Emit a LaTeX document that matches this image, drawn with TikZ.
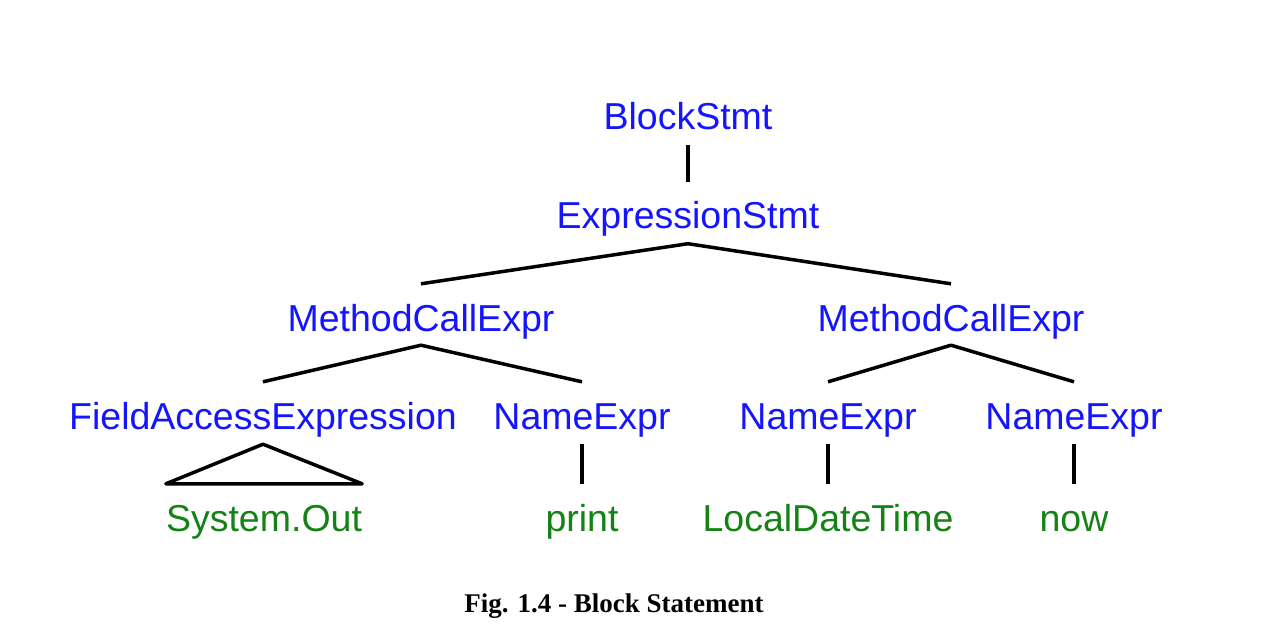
\documentclass[tikz,border=0pt]{standalone}
\usepackage{fontspec}
\setmainfont{Liberation Serif}
\newfontfamily\treefont{Liberation Sans}
\usepackage{xcolor}
\usepackage{tikz}
\definecolor{astblue}{RGB}{20,20,255}
\definecolor{astgreen}{RGB}{20,130,20}

\begin{document}
\begin{tikzpicture}[x=1pt, y=-1pt,
    ast/.style={font=\treefont\fontsize{37.5}{40}\selectfont, text=astblue,
      inner sep=0pt, anchor=base, text height=27pt, text depth=8pt},
    leaf/.style={ast, text=astgreen},
    edge/.style={line width=3.5pt, line join=round}]
  \useasboundingbox (0,0) rectangle (1275,635);

  % ── Inner nodes ───────────────────────────────────────────
  \node[ast] (bs)  at (688,129) {BlockStmt};
  \node[ast] (es)  at (688,228) {ExpressionStmt};
  \node[ast] (mcl) at (421,331) {MethodCallExpr};
  \node[ast] (mcr) at (951,331) {MethodCallExpr};
  \node[ast] (fae) at (263,429) {FieldAccessExpression};
  \node[ast] (ne1) at (582,429) {NameExpr};
  \node[ast] (ne2) at (828,429) {NameExpr};
  \node[ast] (ne3) at (1074,429) {NameExpr};

  % ── Leaves ───────────────────────────────────────────────
  \node[leaf] (sys)   at (264,531) {System.Out};
  \node[leaf] (print) at (582,531) {print};
  \node[leaf] (ldt)   at (828,531) {LocalDateTime};
  \node[leaf] (now)   at (1074,531) {now};

  % ── Edges ────────────────────────────────────────────────
  \draw[edge] ([yshift=-8pt]bs.south) -- ([yshift=19pt]es.north);
  \draw[edge] ([yshift=20pt]mcl.north) -- ([yshift=-7.5pt]es.south)
    -- ([yshift=20pt]mcr.north);
  \draw[edge] ([yshift=20pt]fae.north) -- ([yshift=-6pt]mcl.south)
    -- ([yshift=20pt]ne1.north);
  \draw[edge] ([yshift=20pt]ne2.north) -- ([yshift=-6pt]mcr.south)
    -- ([yshift=20pt]ne3.north);
  \draw[edge] ([yshift=-7pt]ne1.south) -- ([yshift=20pt]print.north);
  \draw[edge] ([yshift=-7pt]ne2.south) -- ([yshift=20pt]ldt.north);
  \draw[edge] ([yshift=-7pt]ne3.south) -- ([yshift=20pt]now.north);
  % collapsed subtree
  \draw[edge] ([yshift=-7pt]fae.south) -- ([yshift=20pt]sys.north east)
    -- ([yshift=20pt]sys.north west) -- cycle;

  % Caption
  \node[anchor=base, font=\bfseries\fontsize{27}{30}\selectfont] (cap)
    at (614,612) {Fig. 1.4 - Block Statement};
\end{tikzpicture}
\end{document}
